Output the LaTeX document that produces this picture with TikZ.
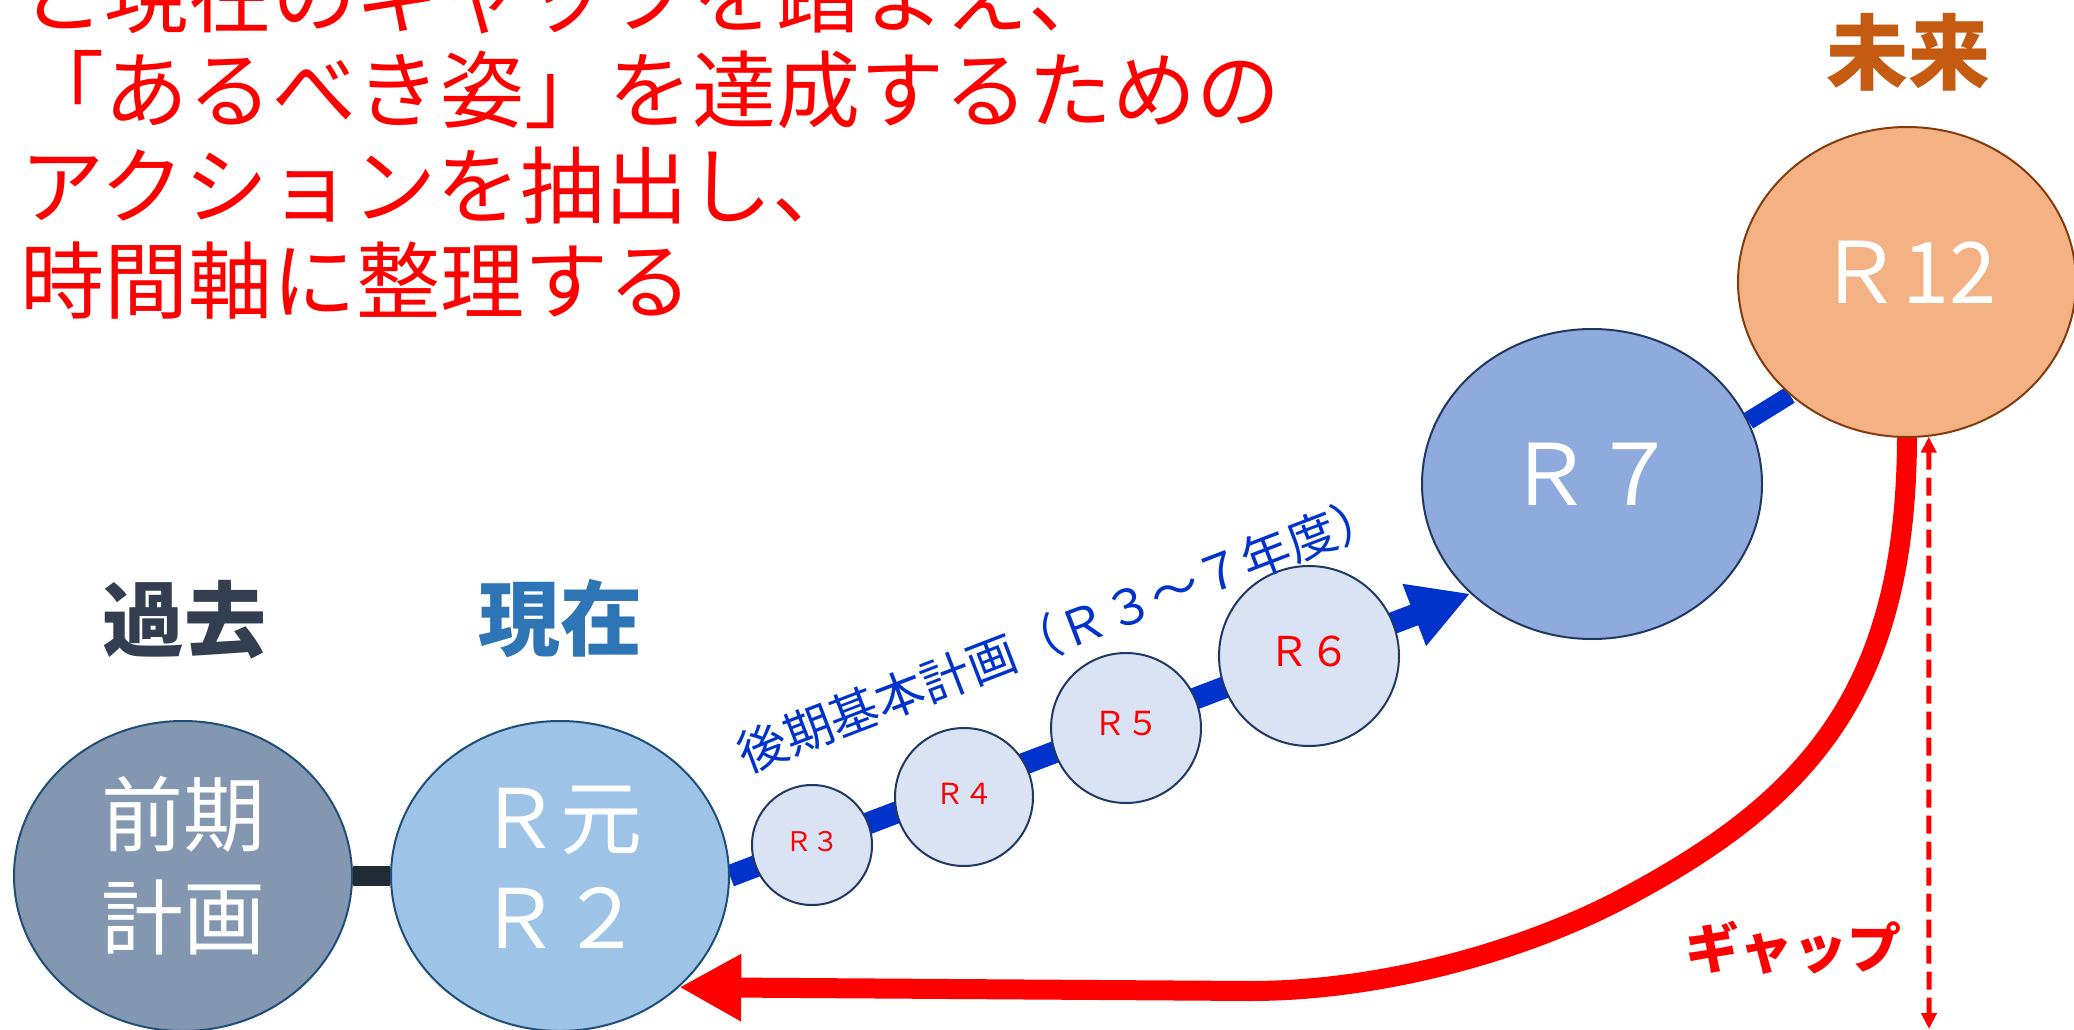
\documentclass[tikz,border=0pt]{standalone}
\usepackage{fontspec}
\setmainfont{Noto Sans CJK JP}
\usetikzlibrary{arrows.meta,shapes.geometric}
\definecolor{pastc}{HTML}{333F50}
\definecolor{nowc}{HTML}{2E75B6}
\definecolor{futc}{HTML}{C55A11}
\definecolor{pastfill}{HTML}{8497B0}
\definecolor{nowfill}{HTML}{9DC3E6}
\definecolor{ellline}{HTML}{1F4E79}
\definecolor{smallfill}{HTML}{DAE3F3}
\definecolor{smallline}{HTML}{203864}
\definecolor{sevenfill}{HTML}{8FAADC}
\definecolor{twelvefill}{HTML}{F4B183}
\definecolor{twelveline}{HTML}{843C0C}
\definecolor{darkc}{HTML}{222A35}
\definecolor{bluec}{HTML}{0033CC}
\pgfdeclarelayer{bg}
\pgfsetlayers{bg,main}
\tikzset{
  ell/.style={ellipse, draw, line width=2pt, inner sep=0pt},
  bigell/.style={ell, minimum width=338pt, minimum height=310pt},
  smallell/.style={ell, draw=smallline, fill=smallfill},
  smalltxt/.style={text=red, inner sep=0pt},
  wtxt/.style={text=white, align=center, inner sep=0pt},
  titleline/.style={text=red, anchor=base west, inner sep=0pt, font=\fontsize{84pt}{95pt}\selectfont},
  headlbl/.style={inner sep=0pt, font=\bfseries\fontsize{82pt}{82pt}\selectfont},
}
\begin{document}
\begin{tikzpicture}[x=1pt,y=-1pt]
\useasboundingbox (0,0) rectangle (2074,1030);

% title
\node[titleline] (t1) at (20,27) {と現在のギャップを踏まえ、};
\node[titleline] (t2) at (20,122) {「あるべき姿」を達成するための};
\node[titleline] (t3) at (20,217) {アクションを抽出し、};
\node[titleline] (t4) at (20,312) {時間軸に整理する};

% headings
\node[headlbl, text=pastc] (kako) at (184,620) {過去};
\node[headlbl, text=nowc] (genzai) at (560,619) {現在};
\node[headlbl, text=futc] (mirai) at (1908,52) {未来};

% big ellipses
\node[bigell, fill=pastfill, draw=ellline] (P) at (183,876) {};
\node[wtxt, font=\fontsize{82pt}{103pt}\selectfont] (Pt) at ([yshift=10pt]P.center) {前期\\計画};
\node[bigell, fill=nowfill, draw=ellline] (R2) at (560,876) {};
\node[wtxt, font=\fontsize{82pt}{100pt}\selectfont] (R2t) at ([yshift=9pt]R2.center) {Ｒ元\\Ｒ２};
\node[bigell, minimum width=340pt, fill=sevenfill, draw=smallline] (R7) at (1592,484) {};
\node[wtxt, font=\fontsize{85pt}{85pt}\selectfont] (R7t) at ([yshift=10pt]R7.center) {Ｒ７};
\node[bigell, fill=twelvefill, draw=twelveline] (R12) at (1907,282) {};
\node[wtxt, font=\fontsize{85pt}{85pt}\selectfont] (R12t) at ([yshift=10pt]R12.center) {Ｒ12};

% small ellipses
\node[smallell, minimum size=120pt] (R3) at (812,845) {};
\node[smalltxt, font=\fontsize{27pt}{27pt}\selectfont] (R3t) at ([yshift=3pt]R3.center) {Ｒ３};
\node[smallell, minimum size=138pt] (R4) at (964,797) {};
\node[smalltxt, font=\fontsize{29pt}{29pt}\selectfont] (R4t) at ([yshift=3pt]R4.center) {Ｒ４};
\node[smallell, minimum size=150pt] (R5) at (1126,728) {};
\node[smalltxt, font=\fontsize{33pt}{33pt}\selectfont] (R5t) at ([yshift=4pt]R5.center) {Ｒ５};
\node[smallell, minimum size=180pt] (R6) at (1309,656) {};
\node[smalltxt, font=\fontsize{41pt}{41pt}\selectfont] (R6t) at ([yshift=5pt]R6.center) {Ｒ６};

% rotated label
\node[text=bluec, rotate=21, inner sep=0pt, font=\fontsize{49pt}{49pt}\selectfont] (plan) at (1060,633) {後期基本計画（Ｒ３～７年度）};

% gap label
\node[text=red, inner sep=0pt, font=\bfseries\fontsize{54pt}{54pt}\selectfont] (gap) at (1793,948) {ギャップ};
\coordinate (gapbot) at (1929,1029);

\begin{pgfonlayer}{bg}
\draw[line width=20pt, draw=darkc] (P) -- (R2);
\draw[line width=22pt, draw=bluec, -{Triangle[length=60pt,width=62pt]}] (R2.east) -- (R7.222);
\draw[line width=18pt, draw=bluec] (R7.22) -- (R12.224);
\draw[line width=20pt, draw=red, line join=round, -{Triangle[length=62pt,width=63pt]}]
  (R12.south) .. controls (1906,690) and (1810,800) .. (1620,900)
  .. controls (1520,952) and (1380,991) .. (1250,991) -- (R2.-43);
\draw[line width=5pt, draw=red, dash pattern=on 18pt off 8pt,
  {Triangle[length=16pt,width=15pt]}-{Triangle[length=16pt,width=15pt]}] (R12.-82) -- (gapbot);
\end{pgfonlayer}
\end{tikzpicture}
\end{document}
